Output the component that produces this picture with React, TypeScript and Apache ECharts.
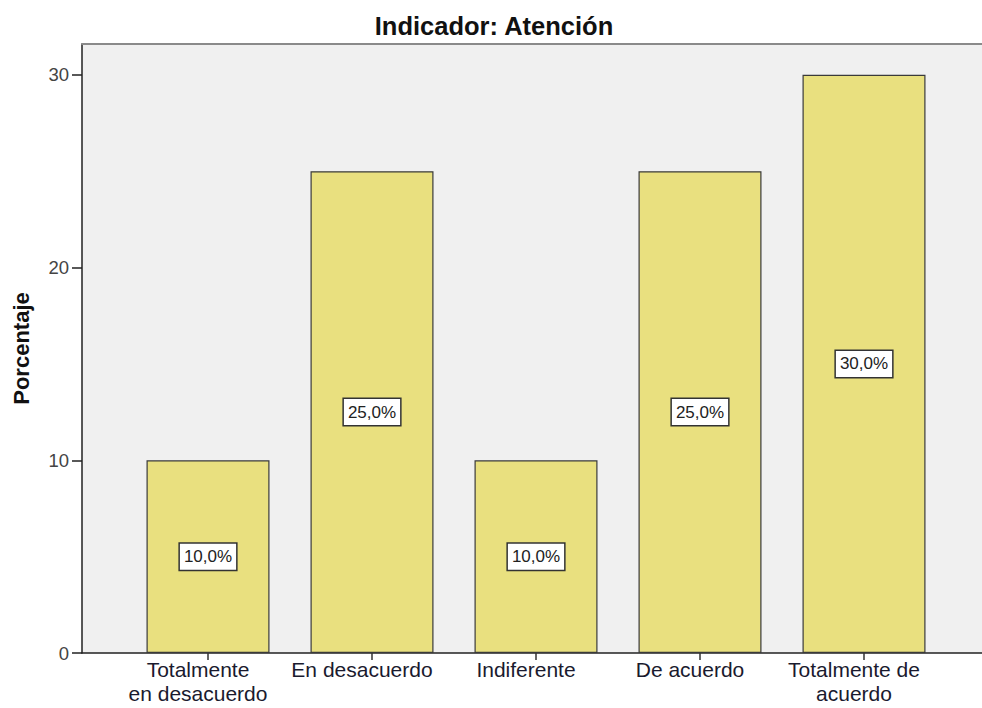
import React, { useEffect, useRef } from "react";
import * as echarts from "echarts";

const title = "Indicador: Atención";
const yAxisName = "Porcentaje";
const categories = [
  "Totalmente\nen desacuerdo",
  "En desacuerdo",
  "Indiferente",
  "De acuerdo",
  "Totalmente de\nacuerdo",
];
const percentages = [10, 25, 10, 25, 30];
const yTicks = [0, 10, 20, 30];

const FONT = "Arial, 'Liberation Sans', sans-serif";
const Y_MAX = 31.6;

export default function App() {
  const ref = useRef<HTMLDivElement>(null);
  useEffect(() => {
    if (!ref.current) return;
    const chart = echarts.init(ref.current, undefined, { renderer: "svg" });
    chart.setOption({
      animation: false,
      backgroundColor: "#ffffff",
      title: {
        text: title,
        left: 489,
        textAlign: "center",
        top: 8,
        textStyle: { fontFamily: FONT, fontSize: 25.5, fontWeight: "bold", color: "#111" },
      },
      grid: [
        {
          left: 82,
          top: 44,
          width: 920,
          bottom: 55,
          show: true,
          backgroundColor: "#F0F0F0",
          borderWidth: 0,
          containLabel: false,
        },
        {
          left: 126,
          top: 44,
          width: 820,
          bottom: 55,
          containLabel: false,
        },
      ],
      xAxis: [
        {
          gridIndex: 0,
          type: "value",
          min: 0,
          max: 1,
          position: "bottom",
          axisLine: { show: true, lineStyle: { color: "#222", width: 1.5 } },
          axisTick: { show: false },
          axisLabel: { show: false },
          splitLine: { show: false },
        },
        {
          gridIndex: 0,
          type: "value",
          min: 0,
          max: 1,
          position: "top",
          axisLine: { show: true, lineStyle: { color: "#8a8a8a", width: 2 } },
          axisTick: { show: false },
          axisLabel: { show: false },
          splitLine: { show: false },
        },
        {
          gridIndex: 1,
          type: "category",
          data: categories,
          axisLine: { show: false },
          axisTick: { show: true, alignWithLabel: true, length: 7, lineStyle: { color: "#333", width: 1.5 } },
          axisLabel: {
            show: true,
            interval: 0,
            margin: 4,
            fontFamily: FONT,
            fontSize: 21,
            color: "#1a1a2e",
            lineHeight: 24,
            verticalAlign: "top",
            padding: [0, 20, 0, 0],
          },
          splitLine: { show: false },
        },
      ],
      yAxis: [
        {
          gridIndex: 0,
          type: "value",
          min: 0,
          max: Y_MAX,
          interval: 10,
          name: yAxisName,
          nameLocation: "middle",
          nameRotate: 90,
          nameGap: 50,
          nameTextStyle: { fontFamily: FONT, fontSize: 22, fontWeight: "bold", color: "#111" },
          axisLine: { show: true, lineStyle: { color: "#222", width: 1.5 } },
          axisTick: { show: true, length: 10, lineStyle: { color: "#222", width: 1.5 } },
          axisLabel: {
            show: true,
            showMaxLabel: false,
            margin: 13,
            fontFamily: FONT,
            fontSize: 18.5,
            color: "#444",
            formatter: (v: number) => (yTicks.includes(v) ? String(v) : ""),
          },
          splitLine: { show: false },
        },
        {
          gridIndex: 1,
          type: "value",
          min: 0,
          max: Y_MAX,
          show: false,
          splitLine: { show: false },
        },
      ],
      series: [
        {
          type: "bar",
          xAxisIndex: 2,
          yAxisIndex: 1,
          data: percentages,
          barWidth: 123,
          itemStyle: { color: "#E9E07F", borderColor: "#3a3a3a", borderWidth: 1.2 },
          label: {
            show: true,
            position: "inside",
            formatter: (p: any) => p.value.toFixed(1).replace(".", ",") + "%",
            fontFamily: FONT,
            fontSize: 17,
            color: "#222",
            backgroundColor: "#ffffff",
            borderColor: "#333",
            borderWidth: 1.5,
            padding: [5, 4, 4, 4],
          },
        },
      ],
    });
    return () => chart.dispose();
  }, []);
  return <div ref={ref} style={{ width: 982, height: 708, position: "absolute", left: 0, top: 0 }} />;
}
